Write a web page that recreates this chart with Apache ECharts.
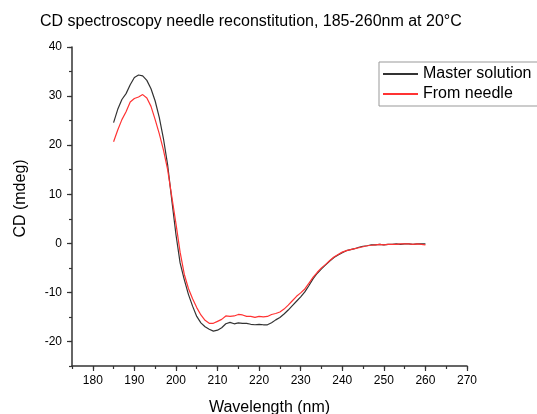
<!DOCTYPE html>
<html>
<head>
<meta charset="utf-8">
<title>CD spectroscopy</title>
<script src="https://cdn.jsdelivr.net/npm/echarts@6/dist/echarts.min.js"></script>
<style>
	html, body { margin: 0; padding: 0; background: #fff; }
	#main { width: 537px; height: 414px; }
</style>
</head>
<body>
<div id="main"></div>
<script>
	// wavelength (nm)
	var wavelengths = [
		185, 186, 187, 188, 189, 190, 191, 192, 193, 194,
		195, 196, 197, 198, 199, 200, 201, 202, 203, 204,
		205, 206, 207, 208, 209, 210, 211, 212, 213, 214,
		215, 216, 217, 218, 219, 220, 221, 222, 223, 224,
		225, 226, 227, 228, 229, 230, 231, 232, 233, 234,
		235, 236, 237, 238, 239, 240, 241, 242, 243, 244,
		245, 246, 247, 248, 249, 250, 251, 252, 253, 254,
		255, 256, 257, 258, 259, 260
	];
	// CD (mdeg)
	var masterSolution = [
		24.6, 27.3, 29.3, 30.5, 32.3, 33.8, 34.3, 34.1, 33.2, 31.5,
		29.0, 25.6, 21.3, 16.0, 8.8, 1.8, -4.0, -7.4, -10.4, -12.8,
		-14.9, -16.2, -17.0, -17.5, -17.9, -17.7, -17.2, -16.4, -16.1, -16.4,
		-16.2, -16.3, -16.3, -16.5, -16.6, -16.5, -16.6, -16.6, -16.2, -15.6,
		-15.1, -14.4, -13.6, -12.7, -11.8, -10.9, -9.9, -8.6, -7.2, -6.1,
		-5.2, -4.4, -3.6, -2.9, -2.4, -1.9, -1.5, -1.3, -1.1, -0.8,
		-0.6, -0.5, -0.3, -0.3, -0.2, -0.3, -0.2, -0.2, -0.1, -0.2,
		-0.1, -0.1, -0.2, -0.1, -0.1, -0.1
	];
	var fromNeedle = [
		20.7, 23.1, 25.2, 26.8, 28.8, 29.5, 29.8, 30.3, 29.6, 27.9,
		25.2, 22.3, 19.0, 15.0, 9.5, 4.0, -1.8, -6.3, -9.2, -11.3,
		-13.1, -14.6, -15.7, -16.3, -16.3, -15.9, -15.5, -14.8, -14.9, -14.8,
		-14.5, -14.6, -14.9, -14.9, -15.1, -14.9, -15.0, -14.9, -14.5, -14.3,
		-14.0, -13.4, -12.6, -11.7, -10.8, -10.1, -9.3, -8.1, -6.9, -5.9,
		-5.0, -4.3, -3.5, -2.8, -2.3, -1.8, -1.5, -1.3, -1.1, -0.9,
		-0.7, -0.5, -0.4, -0.3, -0.2, -0.3, -0.2, -0.2, -0.2, -0.1,
		-0.1, -0.1, -0.2, -0.1, -0.2, -0.3
	];
	var xTicks = [180, 190, 200, 210, 220, 230, 240, 250, 260, 270];
	var yTicks = [-20, -10, 0, 10, 20, 30, 40];

	function pairs(xs, ys) {
		var out = [];
		for(var i = 0; i < xs.length; i++) {
			out.push([xs[i], ys[i]]);
		}
		return out;
	}

	var font = "Liberation Sans, Arial, sans-serif";
	var axisColor = "#333";

	var chart = echarts.init(document.getElementById("main"), null, { renderer: "canvas" });
	chart.setOption({
		animation: false,
		backgroundColor: "#fff",
		title: {
			text: "CD spectroscopy needle reconstitution, 185-260nm at 20\u00b0C",
			left: 35,
			top: 9,
			textStyle: { fontFamily: font, fontSize: 16, fontWeight: "normal", color: "#000" }
		},
		legend: {
			orient: "vertical",
			left: 379,
			top: 62,
			padding: [4, 6, 4, 3],
			itemGap: 4,
			itemWidth: 35,
			itemHeight: 16,
			borderColor: "#999",
			borderWidth: 1,
			itemStyle: { opacity: 0 },
			textStyle: { fontFamily: font, fontSize: 16, color: "#000" },
			data: ["Master solution", "From needle"]
		},
		grid: { left: 72, right: 70, top: 47, bottom: 48, containLabel: false, outerBoundsMode: "none" },
		xAxis: [{
			type: "value",
			min: 175,
			max: 270,
			interval: 5,
			name: "Wavelength (nm)",
			nameLocation: "middle",
			nameGap: 34,
			nameTextStyle: { fontFamily: font, fontSize: 16, color: "#000" },
			axisLine: { show: true, onZero: false, lineStyle: { color: axisColor, width: 1.5 } },
			axisTick: { show: true, inside: false, length: 5, customValues: xTicks, lineStyle: { color: axisColor, width: 1.2 } },
			axisLabel: { customValues: xTicks, margin: 9, fontFamily: font, fontSize: 12, color: "#000" },
			splitLine: { show: false }
		}, {
			// minor ticks
			type: "value",
			position: "bottom",
			min: 175,
			max: 270,
			interval: 5,
			axisLine: { show: false, onZero: false },
			axisTick: { show: true, length: 3, lineStyle: { color: axisColor, width: 1.2 } },
			axisLabel: { show: false },
			splitLine: { show: false }
		}],
		yAxis: [{
			type: "value",
			min: -25,
			max: 40,
			interval: 5,
			name: "CD (mdeg)",
			nameLocation: "middle",
			nameGap: 43,
			nameTextStyle: { fontFamily: font, fontSize: 16, color: "#000", padding: [0, 0, 0, 16] },
			axisLine: { show: true, onZero: false, lineStyle: { color: axisColor, width: 1.5 } },
			axisTick: { show: true, inside: false, length: 5, customValues: yTicks, lineStyle: { color: axisColor, width: 1.2 } },
			axisLabel: { customValues: yTicks, margin: 10, fontFamily: font, fontSize: 12, color: "#000" },
			splitLine: { show: false }
		}, {
			type: "value",
			position: "left",
			min: -25,
			max: 40,
			interval: 5,
			axisLine: { show: false, onZero: false },
			axisTick: { show: true, length: 3, lineStyle: { color: axisColor, width: 1.2 } },
			axisLabel: { show: false },
			splitLine: { show: false }
		}],
		series: [{
			name: "Master solution",
			type: "line",
			xAxisIndex: 0,
			yAxisIndex: 0,
			symbol: "none",
			smooth: false,
			data: pairs(wavelengths, masterSolution),
			lineStyle: { color: "#333333", width: 1.2 },
			itemStyle: { color: "#333333" }
		}, {
			name: "From needle",
			type: "line",
			xAxisIndex: 0,
			yAxisIndex: 0,
			symbol: "none",
			smooth: false,
			data: pairs(wavelengths, fromNeedle),
			lineStyle: { color: "#ff3333", width: 1.2 },
			itemStyle: { color: "#ff3333" }
		}]
	});
</script>
</body>
</html>
